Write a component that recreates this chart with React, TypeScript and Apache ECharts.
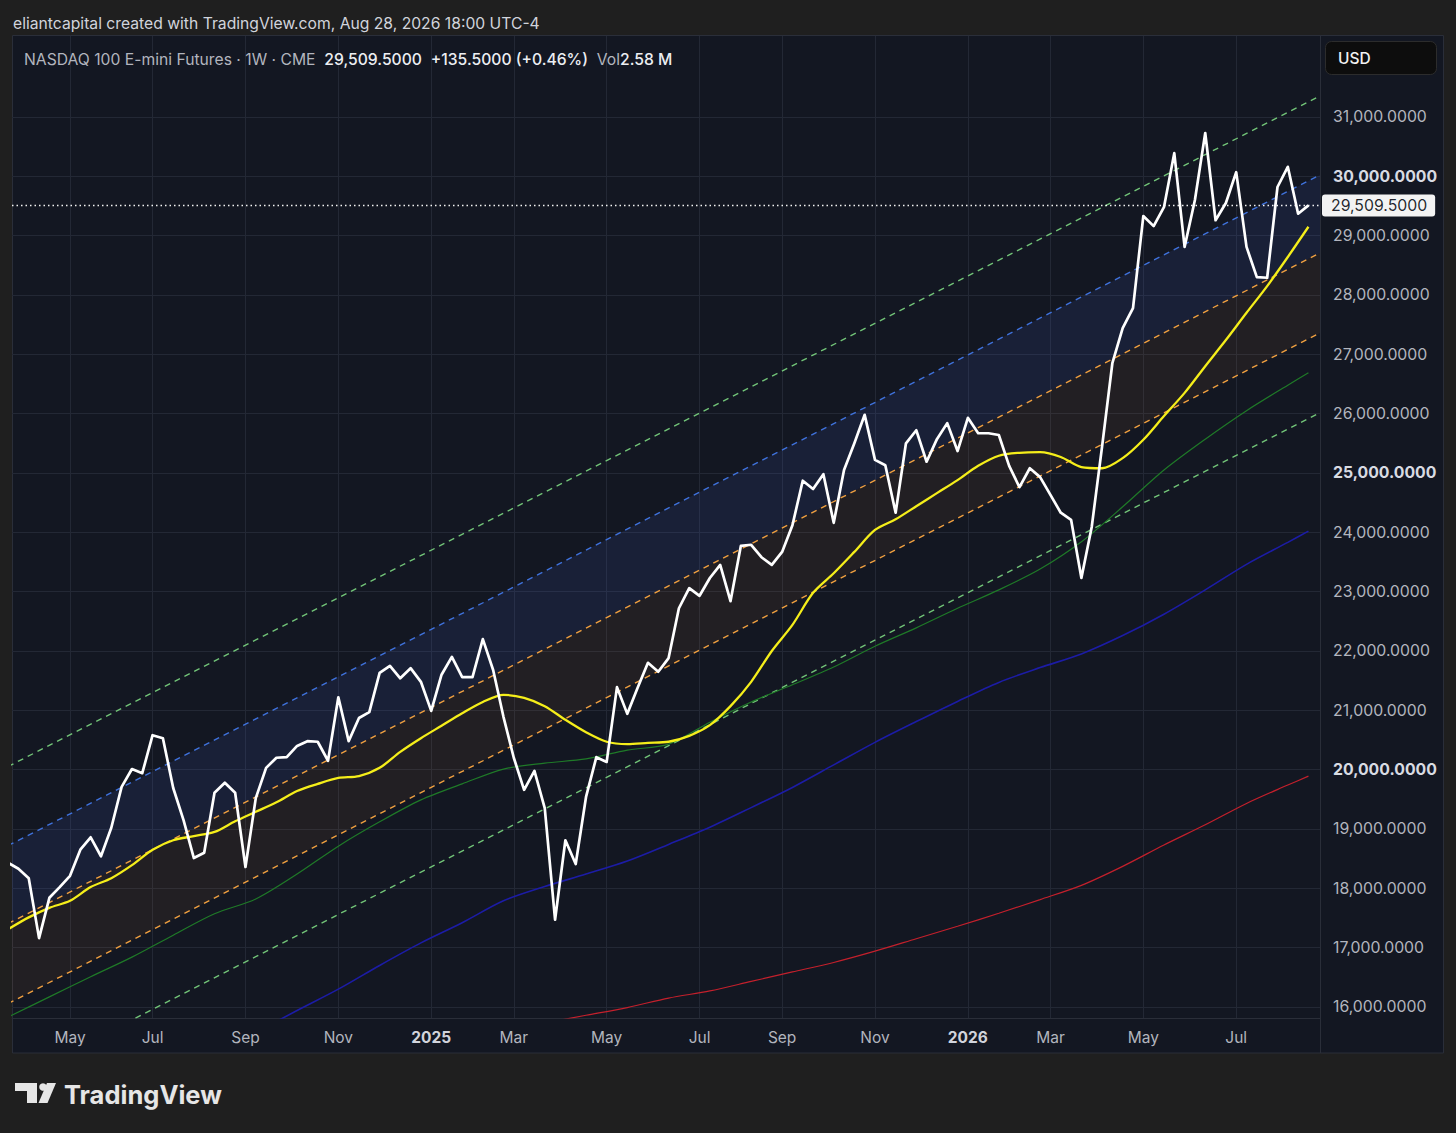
import React, { useEffect, useRef } from 'react';
import * as echarts from 'echarts';

// ---------- DATA ----------
// x = weekly bar index (0 = week of 2024-03-25, 126 = week of 2026-08-24)
const xTickIdx = [6, 14, 23, 32, 41, 49, 58, 67, 75, 84, 93, 101, 110, 119];
const xTickLabels = ['May', 'Jul', 'Sep', 'Nov', '2025', 'Mar', 'May', 'Jul', 'Sep', 'Nov', '2026', 'Mar', 'May', 'Jul'];
const yTicks = [16000, 17000, 18000, 19000, 20000, 21000, 22000, 23000, 24000, 25000, 26000, 27000, 28000, 29000, 30000, 31000];

const price = [
  18430, 18330, 18170, 17160, 17840, 18020, 18210, 18650, 18860, 18540,
  19020, 19710, 20010, 19940, 20580, 20530, 19690, 19150, 18510, 18600,
  19610, 19780, 19610, 18360, 19520, 20030, 20200, 20210, 20400, 20480,
  20470, 20150, 21220, 20480, 20870, 20970, 21630, 21750, 21540, 21710,
  21480, 20990, 21600, 21900, 21560, 21560, 22200, 21680, 20890, 20200,
  19660, 19980, 19350, 17470, 18810, 18410, 19540, 20210, 20130, 21390,
  20940, 21380, 21800, 21650, 21880, 22720, 23060, 22930, 23230, 23450,
  22840, 23770, 23790, 23580, 23450, 23670, 24120, 24870, 24730, 24980,
  24160, 25050, 25500, 25980, 25220, 25130, 24330, 25500, 25720, 25190,
  25570, 25840, 25370, 25930, 25670, 25670, 25640, 25120, 24760, 25080,
  24930, 24630, 24330, 24210, 23230, 24090, 25440, 26850, 27440, 27780,
  29330, 29160, 29480, 30390, 28810, 29600, 30730, 29260, 29550, 30070,
  28810, 28300, 28290, 29820, 30160, 29370, 29509.5,
];
const lastPrice = 29509.5;

const yellowMA: [number, number][] = [
  [0, 17310], [2, 17510], [4, 17670], [6, 17790], [8, 18020], [10, 18170], [12, 18390], [14, 18650],
  [16, 18810], [18, 18880], [20, 18950], [22, 19130], [24, 19290], [26, 19450], [28, 19640], [30, 19760],
  [32, 19860], [34, 19890], [36, 20030], [38, 20300], [40, 20530], [42, 20740], [44, 20950], [46, 21140],
  [48, 21260], [50, 21210], [52, 21070], [54, 20840], [56, 20630], [58, 20470], [60, 20430], [62, 20450],
  [64, 20470], [66, 20570], [68, 20750], [70, 21070], [72, 21480], [74, 22000], [76, 22440], [78, 22980],
  [80, 23310], [82, 23670], [84, 24040], [86, 24220], [88, 24440], [90, 24660], [92, 24880], [94, 25120],
  [96, 25290], [98, 25340], [100, 25350], [102, 25270], [104, 25100], [106, 25080], [108, 25250], [110, 25560],
  [112, 25960], [114, 26350], [116, 26800], [118, 27240], [120, 27700], [122, 28150], [124, 28640], [126, 29150],
];

const greenMA: [number, number][] = [
  [0, 15830], [4, 16170], [8, 16510], [12, 16840], [16, 17210], [20, 17570], [24, 17820], [28, 18240],
  [32, 18710], [36, 19120], [40, 19490], [44, 19760], [48, 20010], [52, 20110], [56, 20180], [60, 20330],
  [64, 20430], [68, 20800], [72, 21140], [76, 21430], [80, 21730], [84, 22080], [88, 22390], [92, 22720],
  [96, 23030], [100, 23380], [104, 23840], [108, 24430], [112, 25050], [116, 25570], [120, 26050], [124, 26480],
  [126, 26690],
];

const navyMA: [number, number][] = [
  [24, 15570], [28, 15940], [32, 16300], [36, 16700], [40, 17080], [44, 17420], [48, 17790], [52, 18030],
  [56, 18240], [60, 18460], [64, 18740], [68, 19030], [72, 19360], [76, 19700], [80, 20080], [84, 20460],
  [88, 20810], [92, 21150], [96, 21470], [100, 21720], [104, 21950], [108, 22260], [112, 22620], [116, 23030],
  [120, 23460], [124, 23830], [126, 24020],
];

const redMA: [number, number][] = [
  [52, 15730], [56, 15860], [60, 15990], [64, 16150], [68, 16270], [72, 16430], [76, 16590], [80, 16750],
  [84, 16940], [88, 17150], [92, 17360], [96, 17580], [100, 17810], [104, 18050], [108, 18370], [112, 18730],
  [116, 19070], [120, 19430], [124, 19740], [126, 19890],
];

// regression channel lines: values at the two ends (x = 0 and x = right edge)
const channelX = [0, 127.12];
const chanGreenTop = [20053, 31354];
const chanBlue = [18721, 30022];
const chanOrangeTop = [17406, 28708];
const chanOrangeBot = [16058, 27359];
const chanGreenBot = [14715, 26016];

// ---------- STYLE ----------
const FONT = 'Inter, "Noto Sans", Roboto, sans-serif';
const PANE_BG = '#131722';
const OUTER_BG = '#1f1f1f';
const GRID = '#232835';
const BORDER = '#2a2e39';

const pairs = (vals: number[]) => channelX.map((x, i) => [x, vals[i]]);

const fmtNum = (v: number) =>
  v.toLocaleString('en-US', { minimumFractionDigits: 4, maximumFractionDigits: 4 });

function buildOption(): any {
  const line = (name: string, data: any[], color: string, width: number, z: number, extra: any = {}) => ({
    type: 'line',
    name,
    data,
    symbol: 'none',
    showSymbol: false,
    silent: true,
    z,
    lineStyle: { color, width },
    ...extra,
  });
  const dashed = (name: string, vals: number[], color: string) =>
    line(name, pairs(vals), color, 1.4, 2, { lineStyle: { color, width: 1.4, type: [6, 5] } });

  const band = (upper: number[], lower: number[], fill: string) => ({
    type: 'custom',
    silent: true,
    clip: true,
    z: 1,
    data: [[64, 24000]],
    encode: { x: 0, y: 1 },
    renderItem: (_p: any, api: any) => ({
      type: 'polygon',
      shape: {
        points: [
          api.coord([channelX[0], upper[0]]),
          api.coord([channelX[1], upper[1]]),
          api.coord([channelX[1], lower[1]]),
          api.coord([channelX[0], lower[0]]),
        ],
      },
      style: { fill },
    }),
  });

  return {
    animation: false,
    backgroundColor: OUTER_BG,
    grid: { left: 12, right: 136, top: 36, bottom: 115, containLabel: false },
    xAxis: {
      type: 'value',
      min: 0.378,
      max: 127.12,
      axisLine: { show: true, onZero: false, lineStyle: { color: BORDER, width: 1 } },
      axisTick: { show: false, customValues: xTickIdx },
      splitLine: { show: true, lineStyle: { color: GRID, width: 1 } },
      axisLabel: {
        customValues: xTickIdx,
        margin: 11,
        formatter: (v: number) => {
          const i = xTickIdx.indexOf(Math.round(v));
          const t = i >= 0 ? xTickLabels[i] : '';
          return /^\d{4}$/.test(t) ? `{y|${t}}` : `{m|${t}}`;
        },
        rich: {
          m: { color: '#b2b5be', fontSize: 15.5, fontFamily: FONT },
          y: { color: '#d1d4dc', fontSize: 15.5, fontFamily: FONT, fontWeight: 700 },
        },
      },
    },
    yAxis: {
      type: 'value',
      position: 'right',
      min: 15814,
      max: 32365,
      axisLine: { show: true, lineStyle: { color: BORDER, width: 1 } },
      axisTick: { show: false, customValues: yTicks },
      splitLine: { show: true, lineStyle: { color: GRID, width: 1 } },
      axisLabel: {
        customValues: yTicks,
        margin: 13,
        formatter: (v: number) => (v % 5000 === 0 ? `{b|${fmtNum(v)}}` : `{n|${fmtNum(v)}}`),
        rich: {
          n: { color: '#b2b5be', fontSize: 15.8, fontFamily: FONT },
          b: { color: '#d8dbe2', fontSize: 15.8, fontFamily: FONT, fontWeight: 700 },
        },
      },
    },
    series: [
      band(chanBlue, chanOrangeTop, 'rgba(70,100,210,0.12)'),
      band(chanOrangeTop, chanOrangeBot, 'rgba(255,150,60,0.065)'),
      dashed('chanGreenTop', chanGreenTop, '#72c478'),
      dashed('chanBlue', chanBlue, '#3f72dc'),
      dashed('chanOrangeTop', chanOrangeTop, '#f0a040'),
      dashed('chanOrangeBot', chanOrangeBot, '#f0a040'),
      dashed('chanGreenBot', chanGreenBot, '#72c478'),
      line('redMA', redMA, '#c4202c', 1.2, 3, { smooth: 0.3 }),
      line('navyMA', navyMA, '#1c1ca6', 1.6, 3, { smooth: 0.3 }),
      line('greenMA', greenMA, '#1f7a28', 1.2, 3, { smooth: 0.3 }),
      line('yellowMA', yellowMA, '#f5ee1a', 2.3, 4, { smooth: 0.3 }),
      line(
        'price',
        price.map((v, i) => [i, v]),
        '#ffffff',
        2.7,
        5,
        {
          lineStyle: { color: '#ffffff', width: 2.7, join: 'round' },
          markLine: {
            silent: true,
            symbol: ['none', 'none'],
            animation: false,
            lineStyle: { color: '#ffffff', type: [1.5, 3], width: 1.3, opacity: 0.95 },
            label: {
              show: true,
              position: 'end',
              distance: 2,
              formatter: fmtNum(lastPrice),
              backgroundColor: '#ffffff',
              color: '#131722',
              fontSize: 15.8,
              fontFamily: FONT,
              padding: [3, 8, 3, 9],
              borderRadius: 3,
            },
            data: [{ yAxis: lastPrice }],
          },
        }
      ),
    ],
    graphic: [
      {
        type: 'rect',
        z: -10,
        silent: true,
        shape: { x: 12.5, y: 35.5, width: 1431, height: 1017.5 },
        style: { fill: PANE_BG, stroke: BORDER, lineWidth: 1 },
      },
      {
        type: 'line',
        z: 10,
        silent: true,
        shape: { x1: 1320.5, y1: 1018, x2: 1320.5, y2: 1053 },
        style: { stroke: BORDER, lineWidth: 1 },
      },
      {
        type: 'text',
        x: 13,
        y: 23,
        silent: true,
        style: {
          text: 'eliantcapital created with TradingView.com, Aug 28, 2026 18:00 UTC-4',
          fill: '#d1d4dc',
          fontSize: 15.7,
          fontFamily: FONT,
          verticalAlign: 'middle',
        },
      },
      {
        type: 'text',
        x: 24,
        y: 59,
        z: 20,
        silent: true,
        style: {
          text: '{a|NASDAQ 100 E-mini Futures · 1W · CME}  {b|29,509.5000}  {b|+135.5000 (+0.46%)}  {a|Vol}{b|2.58 M}',
          verticalAlign: 'middle',
          fontSize: 15.7,
          fontFamily: FONT,
          rich: {
            a: { fill: '#b2b5be', fontSize: 15.7, fontFamily: FONT },
            b: { fill: '#eceef2', fontSize: 15.7, fontFamily: FONT, fontWeight: 500 },
          },
        },
      },
      {
        type: 'rect',
        z: 20,
        silent: true,
        shape: { x: 1325.5, y: 41.5, width: 111, height: 33, r: 6 },
        style: { fill: '#0d0d0d', stroke: '#2c2c2c', lineWidth: 1 },
      },
      {
        type: 'text',
        x: 1338,
        y: 58,
        z: 21,
        silent: true,
        style: { text: 'USD', fill: '#f2f2f2', fontSize: 15.5, fontFamily: FONT, fontWeight: 500, verticalAlign: 'middle' },
      },
      // TradingView logo
      {
        type: 'group',
        silent: true,
        children: [
          { type: 'rect', shape: { x: 15, y: 1083, width: 22, height: 8 }, style: { fill: '#e6e6e6' } },
          { type: 'rect', shape: { x: 27, y: 1083, width: 10, height: 20 }, style: { fill: '#e6e6e6' } },
          { type: 'circle', shape: { cx: 43, cy: 1087, r: 3.8 }, style: { fill: '#e6e6e6' } },
          {
            type: 'polygon',
            shape: { points: [[47, 1083], [56, 1083], [47.5, 1103], [38.5, 1103]] },
            style: { fill: '#e6e6e6' },
          },
        ],
      },
      {
        type: 'text',
        x: 64,
        y: 1094,
        silent: true,
        style: {
          text: 'TradingView',
          fill: '#e6e6e6',
          fontSize: 25.5,
          fontWeight: 700,
          fontFamily: FONT,
          verticalAlign: 'middle',
        },
      },
    ],
  };
}

export default function App() {
  const ref = useRef<HTMLDivElement>(null);
  useEffect(() => {
    if (!ref.current) return;
    const chart = echarts.init(ref.current, undefined, { renderer: 'svg' });
    chart.setOption(buildOption());
    return () => chart.dispose();
  }, []);
  return (
    <div
      ref={ref}
      style={{ position: 'fixed', left: 0, top: 0, width: 1456, height: 1133, background: OUTER_BG }}
    />
  );
}
